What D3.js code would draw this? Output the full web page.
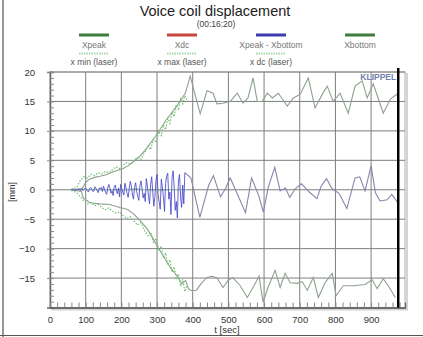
<!DOCTYPE html>
<html>
<head>
<meta charset="utf-8">
<script src="https://cdn.jsdelivr.net/npm/d3@7"></script>
<style>
  html, body { margin: 0; padding: 0; background: #fff; }
  svg { display: block; font-family: "Liberation Sans", Arial, sans-serif; }
</style>
</head>
<body>
<svg id="chart" width="423" height="337"></svg>
<script>
// Voice coil displacement vs. time (mm over seconds)
const title = "Voice coil displacement";
const subtitle = "(00:16:20)";
const legendTop = ["Xpeak", "Xdc", "Xpeak - Xbottom", "Xbottom"];
const legendTopColors = ["#3d7d3d", "#c4463c", "#3c3cae", "#3d7d3d"];
const legendBottom = ["x min (laser)", "x max (laser)", "x dc (laser)"];
const yTicks = [-15, -10, -5, 0, 5, 10, 15, 20];
const xTicks = [0, 100, 200, 300, 400, 500, 600, 700, 800, 900];
const stopTime = 976;

// Peak excursion (t, mm)
const xPeak = [[60,0],[90,0.2],[100,1.2],[110,1.8],[125,2.1],[140,2.3],[160,2.6],[175,3.0],[190,3.3],[205,3.6],[220,4.1],[235,4.8],[250,5.6],[265,6.6],[280,7.8],[295,9.0],[310,10.4],[325,11.8],[340,13.0],[355,14.2],[368,15.3],[380,16.5],[393,19.3],[421,12.9],[440,16.8],[457,16.4],[468,14.6],[485,14.7],[505,15.0],[525,16.4],[541,14.7],[555,15.6],[569,19.0],[581,15.0],[595,15.0],[609,16.4],[623,15.6],[640,16.4],[665,14.2],[682,15.6],[701,16.2],[724,19.0],[743,13.9],[763,16.2],[777,17.6],[794,15.0],[813,16.4],[836,13.0],[855,17.6],[875,18.5],[889,15.6],[906,18.0],[934,13.0],[954,15.4],[976,16.4]];

// Bottom excursion (t, mm)
const xBottom = [[60,0],[88,-0.3],[93,-1.4],[112,-2.2],[140,-2.4],[168,-2.5],[196,-3.0],[216,-3.3],[233,-4.0],[252,-5.2],[272,-6.6],[289,-8.3],[303,-9.8],[317,-11.2],[337,-13.2],[356,-14.6],[370,-16.0],[380,-15.4],[388,-16.8],[395,-17.1],[410,-17.1],[424,-15.9],[440,-14.9],[455,-14.7],[468,-15.0],[485,-16.6],[499,-15.4],[512,-14.9],[533,-16.3],[553,-18.3],[569,-16.6],[586,-14.7],[597,-19.1],[611,-16.6],[631,-13.7],[645,-16.6],[659,-14.2],[673,-15.8],[693,-15.9],[707,-15.6],[721,-17.1],[738,-14.9],[752,-18.3],[771,-15.8],[791,-14.2],[802,-18.0],[822,-16.3],[850,-16.3],[883,-16.1],[903,-15.3],[917,-16.8],[934,-15.1],[948,-16.3],[968,-18.3]];

// Laser measurement, maximum and minimum (t, mm)
const laserMax = [[60,0.1],[75,0.4],[85,1.6],[95,2.2],[105,2.0],[115,2.6],[125,2.4],[135,2.9],[145,2.7],[155,3.1],[165,2.9],[175,3.4],[185,3.9],[195,3.6],[205,4.2],[215,4.6],[225,4.3],[235,5.0],[245,5.5],[255,5.2],[265,6.3],[275,7.4],[282,6.8],[290,8.6],[298,8.0],[305,9.9],[312,9.2],[318,11.0],[324,10.2],[330,12.1],[336,11.3],[342,13.2],[348,12.4],[354,14.4],[360,13.5],[366,15.4],[372,14.6],[378,16.0],[384,15.2]];
const laserMin = [[60,-0.1],[75,-0.5],[85,-1.2],[95,-1.9],[105,-2.4],[115,-2.2],[125,-2.7],[135,-2.5],[145,-3.0],[155,-3.4],[165,-3.1],[175,-3.6],[185,-4.0],[195,-3.8],[205,-4.4],[215,-4.9],[225,-4.6],[235,-5.3],[245,-6.0],[255,-5.6],[265,-6.9],[275,-7.8],[282,-7.2],[290,-8.9],[298,-8.3],[305,-10.4],[312,-9.6],[318,-11.6],[324,-10.7],[330,-12.8],[336,-11.9],[342,-14.0],[348,-13.1],[354,-15.2],[360,-14.3],[366,-16.4],[372,-15.2],[378,-17.3],[384,-16.2]];
const laserDc = [[60,0],[120,0.1],[180,-0.1],[240,0.2],[300,-0.2],[360,0.1],[384,0]];

// DC offset during the dense sampling phase, one value every 3 s from t = 60 s
const dcDenseStart = 60, dcDenseStep = 3;
const dcDense = [0,0,0.1,0,-0.1,0,0.1,0,0,-0.1,
  0.2,-0.1,0.1,0.3,0.1,-0.2,-0.4,0.2,0.4,0.1,-0.3,-0.2,0.5,0.2,-0.1,-0.5,0.3,0.1,0.4,-0.3,
  0.6,0.1,-0.5,-0.8,0.4,0.9,0.2,-0.6,-0.2,-1.0,0.5,0.8,-0.1,-0.7,0.3,-1.2,0.9,0.2,-0.4,-0.9,
  1.1,0.3,-0.6,-1.3,0.2,1.4,0.6,-0.9,-1.6,0.4,1.2,-0.3,-1.1,-1.8,0.7,1.5,0.2,-1.4,-0.6,-2.0,
  1.9,0.6,-1.1,-2.4,0.9,2.2,-0.4,-2.8,-1.2,1.6,2.6,-0.8,-2.1,-3.3,1.8,0.4,-1.3,-3.7,1.1,2.3,
  2.8,-1.6,-0.4,-4.2,1.9,3.2,0.6,-3.5,-2.0,-4.8,1.5,2.6,-1.2,-3.0,0.8,-2.4,2.9];

// DC offset afterwards (t, mm)
const dcSparse = [[378,2.9],[395,2.0],[420,-4.7],[445,0.8],[458,2.4],[478,-1.2],[492,0.2],[505,2.0],[522,-0.3],[548,-3.9],[565,2.0],[585,-1.0],[598,-3.8],[612,0.5],[630,3.8],[645,-0.2],[660,0.3],[672,-1.3],[688,0.2],[705,1.0],[725,-0.3],[748,-1.5],[760,0.6],[775,1.9],[790,0.2],[810,-0.6],[832,-3.2],[855,2.0],[868,2.2],[883,-0.2],[900,4.1],[912,-0.5],[925,-1.9],[945,-1.7],[958,-0.8],[975,-2.2]];

const svg = d3.select("#chart");
const W = 423, H = 337;
const plot = { left: 50, right: 405, top: 72, bottom: 307.5 };

const x = d3.scaleLinear().domain([0, 995]).range([plot.left, plot.right]);
const y = d3.scaleLinear().domain([-20, 20]).range([plot.bottom, plot.top]);

// outer frame of the window
svg.append("line").attr("x1", 3).attr("x2", 3).attr("y1", 0).attr("y2", H)
  .attr("stroke", "#555").attr("stroke-width", 1.2);
svg.append("line").attr("x1", 0).attr("x2", W).attr("y1", 335.5).attr("y2", 335.5)
  .attr("stroke", "#555").attr("stroke-width", 1.2);

// titles
svg.append("text").attr("x", 215).attr("y", 16).attr("text-anchor", "middle")
  .attr("font-size", 14.5).attr("fill", "#222").text(title);
svg.append("text").attr("x", 216).attr("y", 26.5).attr("text-anchor", "middle")
  .attr("font-size", 8.5).attr("fill", "#444").text(subtitle);

// legend
const legX = [94, 182, 271, 360];
legendTop.forEach((name, i) => {
  svg.append("line").attr("x1", legX[i] - 15).attr("x2", legX[i] + 15)
    .attr("y1", 35).attr("y2", 35).attr("stroke", legendTopColors[i]).attr("stroke-width", 3);
  svg.append("text").attr("x", legX[i]).attr("y", 47.5).attr("text-anchor", "middle")
    .attr("font-size", 8.5).attr("fill", "#777").text(name);
});
legendBottom.forEach((name, i) => {
  svg.append("line").attr("x1", legX[i] - 15).attr("x2", legX[i] + 15)
    .attr("y1", 53.5).attr("y2", 53.5).attr("stroke", "#a8d8a8").attr("stroke-width", 2.2)
    .attr("stroke-dasharray", "1.5,1");
  svg.append("text").attr("x", legX[i]).attr("y", 65).attr("text-anchor", "middle")
    .attr("font-size", 8.5).attr("fill", "#555").text(name);
});

// plot frame with soft shadow
svg.append("rect").attr("x", plot.left + 2).attr("y", plot.top + 2)
  .attr("width", plot.right - plot.left).attr("height", plot.bottom - plot.top)
  .attr("fill", "none").attr("stroke", "#d4d4d4").attr("stroke-width", 2);
svg.append("rect").attr("x", plot.left).attr("y", plot.top)
  .attr("width", plot.right - plot.left).attr("height", plot.bottom - plot.top)
  .attr("fill", "#fff").attr("stroke", "#b0b0b0").attr("stroke-width", 1);

// grid
const grid = svg.append("g");
grid.selectAll("line.v").data(xTicks.filter(d => d > 0)).join("line")
  .attr("x1", d => x(d)).attr("x2", d => x(d)).attr("y1", plot.top).attr("y2", plot.bottom)
  .attr("stroke", "#7e7e7e").attr("stroke-width", 1);
grid.selectAll("line.h").data(yTicks).join("line")
  .attr("x1", plot.left).attr("x2", plot.right).attr("y1", d => y(d)).attr("y2", d => y(d))
  .attr("stroke", "#7e7e7e").attr("stroke-width", 1);

// axes
const yAxis = svg.append("g").attr("transform", `translate(${plot.left},0)`)
  .call(d3.axisLeft(y).tickValues(yTicks).tickFormat(d3.format("d")).tickSize(3).tickPadding(12));
const yMinor = svg.append("g").attr("transform", `translate(${plot.left},0)`)
  .call(d3.axisRight(y).tickValues(d3.range(-20, 20.01, 1)).tickSize(4).tickFormat(""));
const xAxis = svg.append("g").attr("transform", `translate(0,${plot.bottom})`)
  .call(d3.axisBottom(x).tickValues(xTicks).tickSize(0).tickPadding(9));
const xMinor = svg.append("g").attr("transform", `translate(0,${plot.bottom})`)
  .call(d3.axisTop(x).tickValues(d3.range(0, 981, 20)).tickSize(5).tickFormat(""));
[yAxis, yMinor, xAxis, xMinor].forEach(g => {
  g.select(".domain").attr("stroke", "#666").attr("stroke-width", 1.3);
  g.selectAll(".tick line").attr("stroke", "#888");
  g.selectAll("text").attr("font-size", 9.5).attr("fill", "#333")
    .attr("font-family", "Liberation Sans, Arial, sans-serif");
});

svg.append("text").attr("transform", "translate(15,192) rotate(-90)")
  .attr("text-anchor", "middle").attr("font-size", 9).attr("fill", "#333").text("[mm]");
svg.append("text").attr("x", 227).attr("y", 333).attr("text-anchor", "middle")
  .attr("font-size", 9.5).attr("fill", "#333").text("t [sec]");

// data traces
const line = d3.line().x(d => x(d[0])).y(d => y(d[1]));
const traces = svg.append("g");

traces.append("path").datum(laserDc).attr("d", line).attr("fill", "none")
  .attr("stroke", "#a6d6a6").attr("stroke-width", 1);
traces.append("path").datum(xPeak).attr("d", line).attr("fill", "none")
  .attr("stroke", "#8ea08e").attr("stroke-width", 1.1);
traces.append("path").datum(xBottom).attr("d", line).attr("fill", "none")
  .attr("stroke", "#8ea08e").attr("stroke-width", 1.1);
[laserMax, laserMin].forEach(s => {
  traces.append("path").datum(s).attr("d", line).attr("fill", "none")
    .attr("stroke", "#74c074").attr("stroke-width", 1.2).attr("stroke-dasharray", "1.5,1.5");
});

const dcDenseData = dcDense.map((v, i) => [dcDenseStart + i * dcDenseStep, v]);
traces.append("path").datum(dcSparse).attr("d", line).attr("fill", "none")
  .attr("stroke", "#8884aa").attr("stroke-width", 1.1);
traces.append("path").datum(dcDenseData).attr("d", line).attr("fill", "none")
  .attr("stroke", "#4848cc").attr("stroke-width", 1).attr("stroke-opacity", 0.85);

// end-of-measurement marker
svg.append("line").attr("x1", x(stopTime)).attr("x2", x(stopTime))
  .attr("y1", plot.top - 4).attr("y2", plot.bottom)
  .attr("stroke", "#000").attr("stroke-width", 2.5);

svg.append("text").attr("x", x(stopTime) - 2).attr("y", 80).attr("text-anchor", "end")
  .attr("font-size", 8.5).attr("font-weight", "bold").attr("fill", "#7080b0").text("KLIPPEL");
</script>
</body>
</html>
